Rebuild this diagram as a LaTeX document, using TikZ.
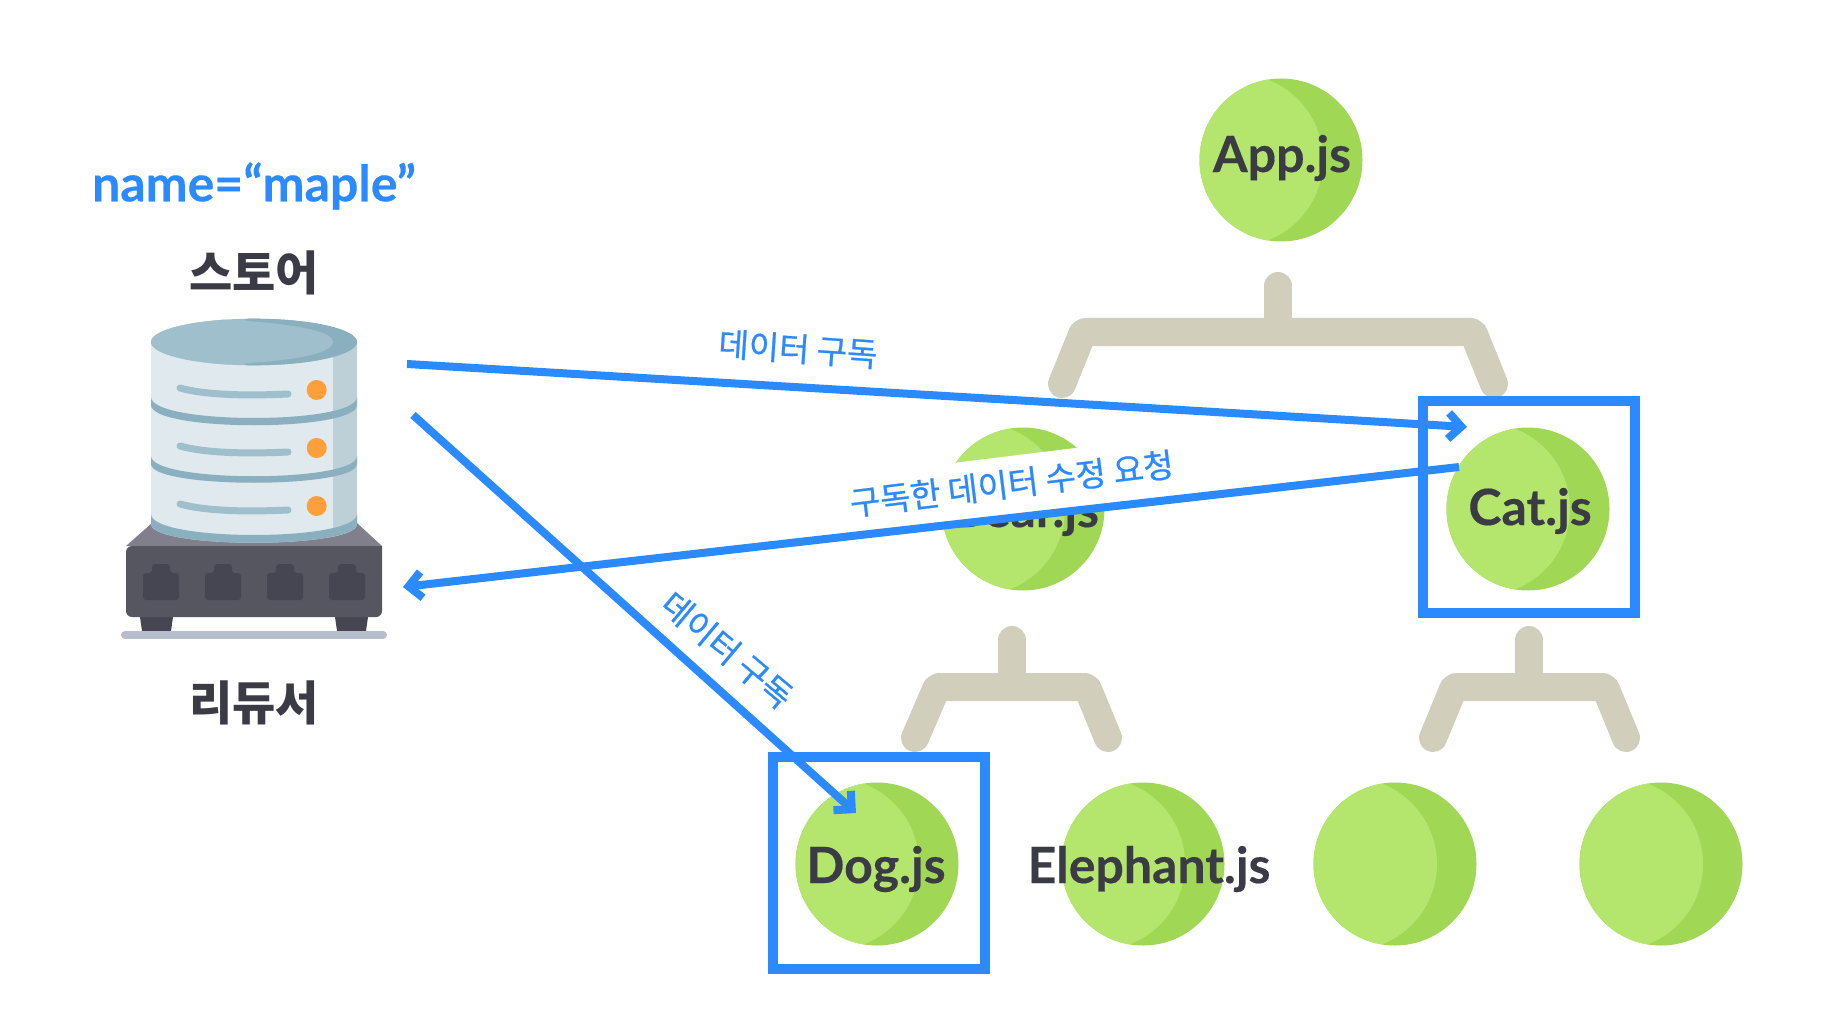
\documentclass[tikz,border=0pt]{standalone}
\usepackage{fontspec}
\setmainfont{Lato}[BoldFeatures={FakeBold=0.3}]
\newfontfamily\krfont{Noto Sans CJK KR}
\newfontfamily\krlabelfont[FakeBold=0.7]{Noto Sans CJK KR}
\usetikzlibrary{arrows.meta}
\definecolor{markblue}{HTML}{2B8AFF}
\definecolor{ballback}{HTML}{A0D755}
\definecolor{ballfront}{HTML}{B4E66E}
\definecolor{branchtan}{HTML}{D1CFBC}
\definecolor{inkdark}{HTML}{3A3B45}
\definecolor{drumlight}{HTML}{DFE9EE}
\definecolor{drumshade}{HTML}{BDCFD7}
\definecolor{drumband}{HTML}{8AB0C0}
\definecolor{drumtop}{HTML}{9FBFCC}
\definecolor{lampcolor}{HTML}{FF9F3C}
\definecolor{basetop}{HTML}{817F8C}
\definecolor{basefront}{HTML}{565661}
\definecolor{baseport}{HTML}{464552}
\definecolor{basefloor}{HTML}{B7BDCB}
\tikzset{
    ball/.style={circle, minimum size=163pt, inner sep=0pt, fill=ballback,
        path picture={\fill[ballfront] ([xshift=-44pt]path picture bounding box.center) circle (86pt);}},
    jsname/.style={text=inkdark, font=\bfseries\fontsize{50}{50}\selectfont, inner sep=0pt},
    krname/.style={text=inkdark, font=\krfont\bfseries\fontsize{47}{47}\selectfont, inner sep=0pt},
    flowlabel/.style={text=markblue, font=\krlabelfont\fontsize{33}{33}\selectfont, inner sep=0pt},
    branch/.style={branchtan, line width=28pt, line cap=round, line join=round, rounded corners=2pt},
    markbox/.style={draw=markblue, line width=10pt, minimum size=212pt, inner sep=0pt},
    flow/.style={markblue, line width=8pt, -{Straight Barb[length=13pt, width=26pt]}}
}
\begin{document}
\begin{tikzpicture}[x=1pt, y=-1pt]
    \useasboundingbox (0,0) rectangle (1834,1024);

    % Tree branches
    \draw[branch] (1062,384) -- (1083,332) -- (1473,332) -- (1494,384);
    \draw[branch] (1278,286) -- (1278,332);
    \draw[branch] (915,738) -- (937,687) -- (1087,687) -- (1108,738);
    \draw[branch] (1012,640) -- (1012,687);
    \draw[branch] (1433,738) -- (1454,687) -- (1605,687) -- (1626,738);
    \draw[branch] (1529,640) -- (1529,687);

    % Components
    \node[ball] (appball) at (1281,160) {};
    \node[ball] (bearball) at (1023,509) {};
    \node[ball] (catball) at (1528,509) {};
    \node[ball] (dogball) at (877,864) {};
    \node[ball] (elephantball) at (1143,864) {};
    \node[ball] (leftleaf) at (1395,864) {};
    \node[ball] (rightleaf) at (1661,864) {};
    \node[jsname] (appname) at (1282,158) {App.js};
    \node[jsname] (bearname) at (1025,513) {Bear.js};
    \node[jsname] (catname) at (1530,511) {Cat.js};
    \node[jsname] (dogname) at (876,869) {Dog.js};
    \node[jsname] (elephantname) at (1149,869) {Elephant.js};

    % Reducer base
    \fill[baseport] (139,610) -- (174,610) -- (171,631) -- (142,631) -- cycle;
    \fill[baseport] (334,610) -- (369,610) -- (366,631) -- (337,631) -- cycle;
    \fill[basetop] (152,523) -- (357,523) -- (382,546) -- (126,546) -- cycle;
    \fill[basefront, rounded corners=6pt] (126,546) [sharp corners] -- (382,546) [rounded corners=6pt] -- (382,617) -- (126,617) -- cycle;
    \foreach \portx in {161,223,285,347} {
        \fill[baseport, rounded corners=3pt] (\portx-18,573) -- (\portx-9,573) -- (\portx-9,564) -- (\portx+9,564) -- (\portx+9,573) -- (\portx+18,573) -- (\portx+18,600) -- (\portx-18,600) -- cycle;
    }
    \draw[basefloor, line width=8pt, line cap=round] (125,635) -- (383,635);

    % Store drum
    \fill[drumlight] (151,342) -- (151,524) .. controls (151,549) and (357,549) .. (357,524) -- (357,342) -- cycle;
    \begin{scope}
        \clip (151,342) -- (151,524) .. controls (151,549) and (357,549) .. (357,524) -- (357,342) -- cycle;
        \fill[drumshade] (333,342) rectangle (357,545);
    \end{scope}
    \fill[drumband] (151,397) .. controls (151,425) and (357,425) .. (357,397) -- (357,405) .. controls (357,432) and (151,432) .. (151,405) -- cycle;
    \fill[drumband] (151,456) .. controls (151,483) and (357,483) .. (357,456) -- (357,464) .. controls (357,489) and (151,489) .. (151,464) -- cycle;
    \fill[drumband] (151,514) .. controls (151,542) and (357,542) .. (357,514) -- (357,524) .. controls (357,549) and (151,549) .. (151,524) -- cycle;
    \fill[drumtop] (254,342) ellipse (103pt and 23.3pt);
    \begin{scope}
        \clip (254,342) ellipse (103pt and 23.3pt);
        \fill[drumband] (245,310) rectangle (370,375);
        \fill[drumtop] (151,318) .. controls (240,318) and (333,325) .. (333,342) .. controls (333,360) and (240,366) .. (151,366) -- cycle;
    \end{scope}
    % Lines and lamps
    \foreach \rowy in {0,58,116} {
        \draw[drumtop, line width=7pt, line cap=round] (180,388+\rowy) .. controls (205,395+\rowy) and (245,396+\rowy) .. (288,394+\rowy);
        \fill[lampcolor] (316.7,390+\rowy) circle (10pt);
    }

    % Store labels
    \node[text=markblue, font=\bfseries\fontsize{50}{50}\selectfont, inner sep=0pt] (statename) at (254,186) {name=“maple”};
    \node[krname] (storename) at (254,273) {스토어};
    \node[krname] (reducername) at (254,703) {리듀서};

    % Highlights
    \node[markbox] (catbox) at (1529,507) {};
    \node[markbox] (dogbox) at (878.5,862.5) {};

    % Flows
    \coordinate (subcatstart) at (407,364);
    \coordinate (subcatend) at (1467,427);
    \coordinate (askstart) at (1459,467);
    \coordinate (askend) at (403,587);
    \coordinate (subdogstart) at (413,415);
    \coordinate (subdogend) at (856,813);
    \node[flowlabel, fill=white, text height=40pt, text depth=20pt, inner xsep=4pt, rotate=7] (asklabel) at (1012,486) {구독한 데이터 수정 요청};
    \draw[flow] (subcatstart) -- (subcatend);
    \draw[flow] (askstart) -- (askend);
    \draw[flow] (subdogstart) -- (subdogend);
    \node[flowlabel, rotate=-4] (subcatlabel) at (798,349) {데이터 구독};
    \node[flowlabel, rotate=-40] (subdoglabel) at (727,650) {데이터 구독};
\end{tikzpicture}
\end{document}
